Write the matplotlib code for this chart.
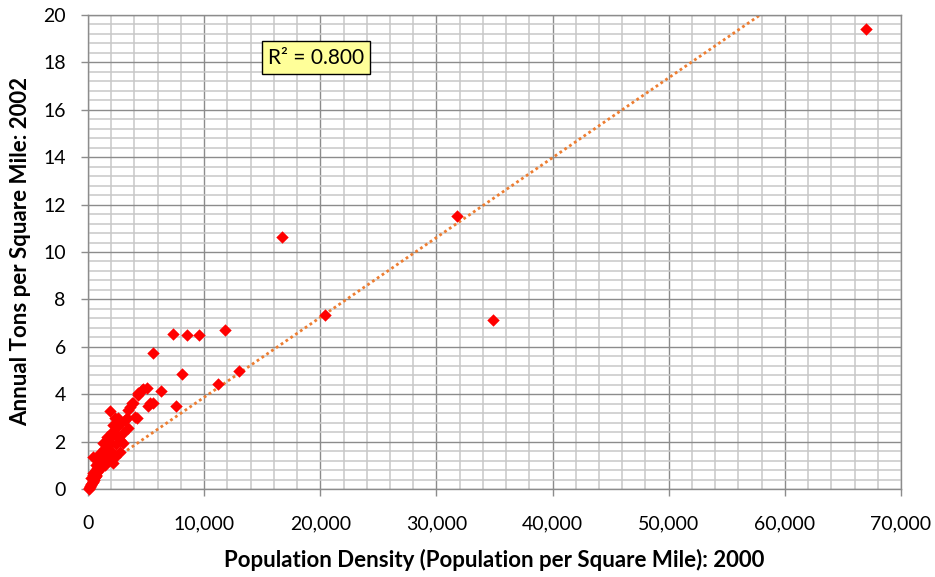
import matplotlib
matplotlib.use("Agg")
import matplotlib.pyplot as plt
from matplotlib.ticker import MultipleLocator, FuncFormatter
import numpy as np

# population density (per sq mile), 2000
density = [50, 100, 150, 200, 250, 300, 350, 400, 450, 500, 550, 600, 650, 700,
           800, 900, 300, 450, 600, 750, 460, 890, 1030, 460, 700, 1000, 1100,
           1200, 1300, 1460, 1320, 1610, 1500, 1700, 1890, 2040, 2180, 2330,
           2180, 2330, 2760, 2760, 3040, 3040, 3330, 3470, 3190, 3470, 3620,
           3760, 3900, 4050, 4190, 4330, 4330, 4620, 4760, 5050, 5190, 5340,
           5620, 5620, 6290, 7290, 7580, 8070, 8500, 9530, 11220, 11820, 13030,
           16700, 20400, 31770, 34870, 67000,
           1800, 2000, 2200, 2500, 2600, 2400, 2000, 1600, 1800, 2800, 1200,
           900, 1400, 2600]
# annual tons per sq mile, 2002
tons = [0.02, 0.05, 0.10, 0.12, 0.18, 0.22, 0.25, 0.30, 0.35, 0.40, 0.45, 0.50,
        0.55, 0.60, 0.70, 0.80, 0.45, 0.60, 0.75, 0.90, 0.66, 1.08, 1.50, 1.36,
        1.00, 1.20, 0.90, 1.10, 1.25, 1.01, 1.93, 2.21, 1.60, 1.80, 3.29, 2.42,
        2.70, 2.98, 1.08, 1.36, 1.57, 2.07, 2.35, 1.93, 2.98, 2.56, 2.91, 3.33,
        3.47, 3.62, 3.62, 3.05, 2.98, 3.97, 4.04, 4.18, 4.22, 4.25, 3.50, 3.62,
        3.64, 5.75, 4.15, 6.54, 3.50, 4.85, 6.50, 6.50, 4.43, 6.71, 4.99,
        10.63, 7.34, 11.52, 7.13, 19.40,
        2.00, 2.20, 2.40, 2.60, 2.20, 1.90, 1.60, 1.30, 1.50, 2.80, 1.50,
        1.30, 1.70, 3.00]

# linear trendline as shown on the chart
trend_slope = 0.000337
trend_intercept = 0.50
r2_text = "R² = 0.800"

plt.rcParams['font.family'] = ['Lato', 'DejaVu Sans']

fig = plt.figure(figsize=(9.35, 5.77), dpi=100)
ax = fig.add_axes([88 / 935, 1 - 489 / 577, 813 / 935, 474 / 577])

ax.set_xlim(0, 70000)
ax.set_ylim(0, 20)
ax.xaxis.set_major_locator(MultipleLocator(10000))
ax.xaxis.set_minor_locator(MultipleLocator(2000))
ax.yaxis.set_major_locator(MultipleLocator(2))
ax.yaxis.set_minor_locator(MultipleLocator(0.4))
ax.xaxis.set_major_formatter(FuncFormatter(lambda v, p: f"{v:,.0f}"))

ax.grid(which='minor', color='#c8c8c8', lw=1.1)
ax.grid(which='major', color='#8c8c8c', lw=1.0)
ax.set_axisbelow(True)

for s in ax.spines.values():
    s.set_color('#8c8c8c')
    s.set_linewidth(1.0)

ax.tick_params(which='major', direction='out', length=5, width=1,
               color='#8c8c8c', labelsize=14, pad=11)
ax.tick_params(axis='x', pad=14)
ax.tick_params(which='minor', length=0)

tx = np.array([min(density), max(density)])
ax.plot(tx, trend_intercept + trend_slope * tx, color='#ED7D31', lw=2.0,
        linestyle=(0, (1, 1.1)), dash_capstyle='butt', zorder=2)

ax.scatter(density, tons, marker='D', s=40, color='#FF0000', lw=0,
           zorder=3, clip_on=False)

ax.text(0.2804, 0.910, r2_text, transform=ax.transAxes, fontsize=15,
        ha='center', va='center',
        bbox=dict(boxstyle='square,pad=0.3', fc='#FFFF99', ec='black', lw=1))

ax.set_xlabel("Population Density (Population per Square Mile): 2000",
              fontsize=16, fontweight='bold', labelpad=12)
ax.set_ylabel("Annual Tons per Square Mile: 2002",
              fontsize=16, fontweight='bold', labelpad=9)

fig.savefig("out.png", dpi=100)
